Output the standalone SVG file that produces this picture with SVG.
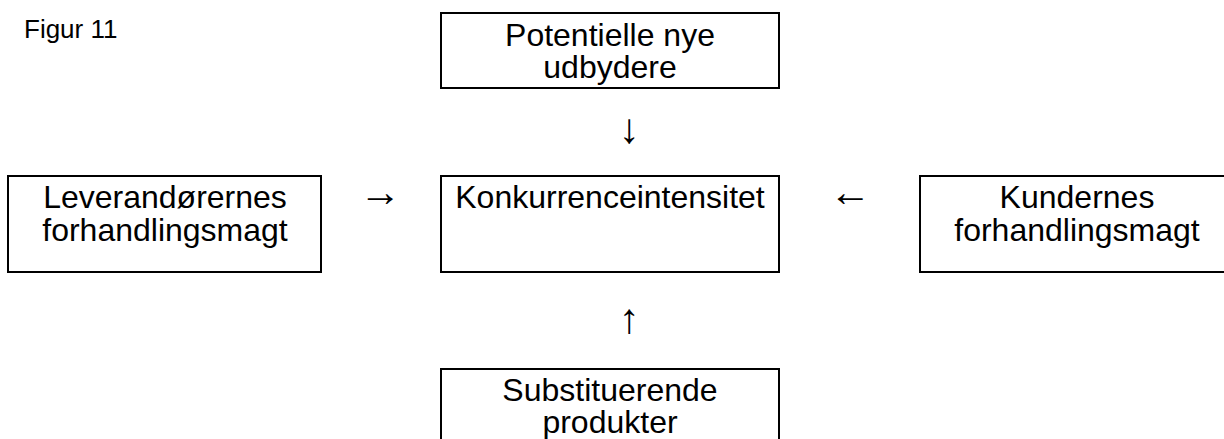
<svg xmlns="http://www.w3.org/2000/svg" width="1224" height="439" viewBox="0 0 1224 439">
<style>
.box{fill:#fff;stroke:#000;stroke-width:2}
.t{font-family:"Liberation Sans",Arial,sans-serif;font-size:32px;fill:#000;text-anchor:middle}
.ar{font-family:"Liberation Sans",Arial,sans-serif;font-size:42px;fill:#000;text-anchor:middle}
.cap{font-family:"Liberation Sans",Arial,sans-serif;font-size:26px;fill:#000}
</style>
<rect width="1224" height="439" fill="#fff"/>
<text class="cap" x="24" y="38">Figur 11</text>
<g id="potentielle">
<rect class="box" x="441" y="13" width="338" height="75"/>
<text class="t" x="610" y="46">Potentielle nye</text>
<text class="t" x="610" y="78">udbydere</text>
</g>
<g id="leverandoerer">
<rect class="box" x="8" y="176" width="313" height="96"/>
<text class="t" x="165" y="208">Leverandørernes</text>
<text class="t" x="165" y="241">forhandlingsmagt</text>
</g>
<g id="konkurrence">
<rect class="box" x="441" y="176" width="338" height="96"/>
<text class="t" x="610" y="208">Konkurrenceintensitet</text>
</g>
<g id="kunder">
<rect class="box" x="920" y="176" width="313" height="96"/>
<text class="t" x="1077" y="208">Kundernes</text>
<text class="t" x="1077" y="241">forhandlingsmagt</text>
</g>
<g id="substitut">
<rect class="box" x="441" y="369" width="338" height="96"/>
<text class="t" x="610" y="401">Substituerende</text>
<text class="t" x="610" y="433">produkter</text>
</g>
<g id="connectors">
<text class="ar" x="629" y="143">↓</text>
<text class="ar" x="380" y="206">→</text>
<text class="ar" x="850" y="206">←</text>
<text class="ar" x="629" y="333">↑</text>
</g>
</svg>
